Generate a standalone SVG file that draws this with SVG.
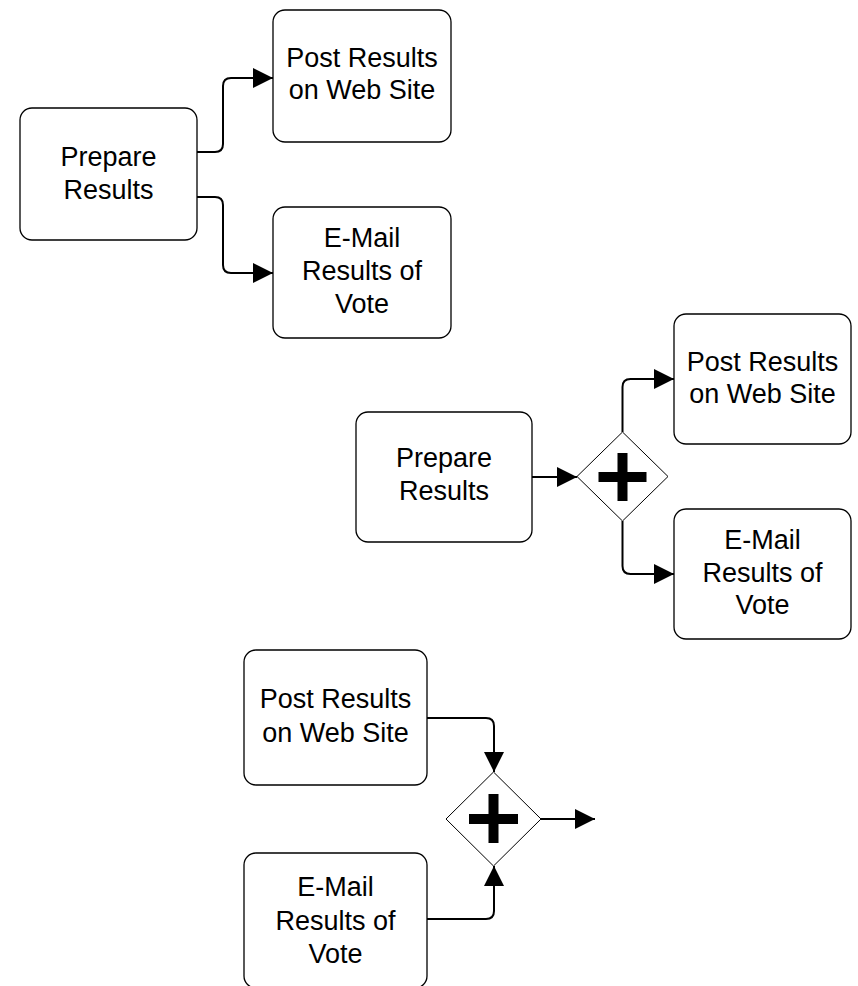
<svg xmlns="http://www.w3.org/2000/svg" width="858" height="986" viewBox="0 0 858 986">
<defs>
<style>
.box{fill:#fff;stroke:#000;stroke-width:1.3}
.gw{fill:#fff;stroke:#000;stroke-width:1}
.plus{fill:#000}
.lbl{font-family:"Liberation Sans",Arial,sans-serif;font-size:27px;fill:#000;text-anchor:middle}
.conn{fill:none;stroke:#000;stroke-width:2}
</style>
<marker id="arr" markerUnits="userSpaceOnUse" markerWidth="20" markerHeight="20" viewBox="0 0 18 18" refX="18" refY="9" orient="auto">
<path d="M0,0 L18,9 L0,18 Z" fill="#000"/>
</marker>
</defs>
<rect width="858" height="986" fill="#fff"/>

<g id="connectors">
<path class="conn" d="M197,152 H215 Q223,152 223,144 V86 Q223,78 231,78 H273" marker-end="url(#arr)"/>
<path class="conn" d="M197,197 H215 Q223,197 223,205 V265 Q223,273 231,273 H273" marker-end="url(#arr)"/>
<path class="conn" d="M532,477 H577" marker-end="url(#arr)"/>
<path class="conn" d="M622.5,432 V387 Q622.5,379 630.5,379 H674" marker-end="url(#arr)"/>
<path class="conn" d="M622.5,521 V566 Q622.5,574 630.5,574 H674" marker-end="url(#arr)"/>
<path class="conn" d="M427,718 H486 Q494,718 494,726 V772" marker-end="url(#arr)"/>
<path class="conn" d="M427,919 H486 Q494,919 494,911 V866" marker-end="url(#arr)"/>
<path class="conn" d="M541,819 H595" marker-end="url(#arr)"/>
</g>

<g id="prepare1">
<rect class="box" x="20" y="108" width="177" height="132" rx="12"/>
<text class="lbl" x="108.5" y="166">Prepare<tspan x="108.5" y="199">Results</tspan></text>
</g>
<g id="post1">
<rect class="box" x="273" y="10" width="178" height="132" rx="12"/>
<text class="lbl" x="362" y="67">Post Results<tspan x="362" y="99">on Web Site</tspan></text>
</g>
<g id="email1">
<rect class="box" x="273" y="207" width="178" height="131" rx="12"/>
<text class="lbl" x="362" y="247">E-Mail<tspan x="362" y="280">Results of</tspan><tspan x="362" y="313">Vote</tspan></text>
</g>

<g id="prepare2">
<rect class="box" x="356" y="412" width="176" height="130" rx="12"/>
<text class="lbl" x="444" y="467">Prepare<tspan x="444" y="500">Results</tspan></text>
</g>
<g id="gateway1">
<path class="gw" d="M622.5,432 L668,476.5 L622.5,521 L577,476.5 Z"/>
<rect class="plus" x="598.5" y="472" width="48" height="10"/>
<rect class="plus" x="617.5" y="453" width="10" height="48"/>
</g>
<g id="post2">
<rect class="box" x="674" y="314" width="177" height="130" rx="12"/>
<text class="lbl" x="762.5" y="371">Post Results<tspan x="762.5" y="403">on Web Site</tspan></text>
</g>
<g id="email2">
<rect class="box" x="674" y="509" width="177" height="130" rx="12"/>
<text class="lbl" x="762.5" y="549">E-Mail<tspan x="762.5" y="582">Results of</tspan><tspan x="762.5" y="614">Vote</tspan></text>
</g>

<g id="post3">
<rect class="box" x="244" y="650" width="183" height="135" rx="12"/>
<text class="lbl" x="335.5" y="708">Post Results<tspan x="335.5" y="742">on Web Site</tspan></text>
</g>
<g id="email3">
<rect class="box" x="244" y="853" width="183" height="135" rx="12"/>
<text class="lbl" x="335.5" y="896">E-Mail<tspan x="335.5" y="930">Results of</tspan><tspan x="335.5" y="963">Vote</tspan></text>
</g>
<g id="gateway2">
<path class="gw" d="M493.5,772 L541,819 L493.5,866 L446,819 Z"/>
<rect class="plus" x="469" y="814" width="49" height="10"/>
<rect class="plus" x="488.5" y="794" width="10" height="49"/>
</g>
</svg>
